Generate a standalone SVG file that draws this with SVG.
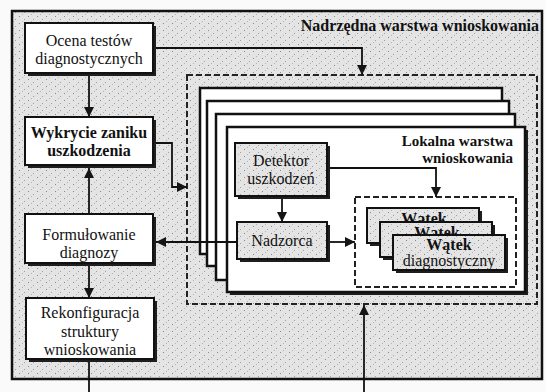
<svg xmlns="http://www.w3.org/2000/svg" width="546" height="392" viewBox="0 0 546 392" font-family="'Liberation Serif', 'DejaVu Serif', serif">
<defs>
<pattern id="stip" width="9" height="7" patternUnits="userSpaceOnUse">
<rect width="9" height="7" fill="#e4e4e4"/>
<rect x="1" y="2" width="1" height="1" fill="#8a8a8a"/>
<rect x="6" y="5" width="1" height="1" fill="#a0a0a0"/>
<rect x="4" y="0" width="1" height="1" fill="#b4b4b4"/>
</pattern>
<marker id="ah" viewBox="0 0 10 10" refX="10" refY="5" markerWidth="10" markerHeight="10" markerUnits="userSpaceOnUse" orient="auto">
<path d="M0,0 L10,5 L0,10 z" fill="#151515"/>
</marker>
</defs>
<style>
text{font-family:'Liberation Serif','DejaVu Serif',serif}
.t{font-size:16px;fill:#111;text-anchor:middle}
.b{font-weight:bold}
.e{text-anchor:end}
.box{fill:#fff;stroke:#111;stroke-width:2}
.sh{fill:#1e1e1e}
.dbox{fill:url(#stip);stroke:#111;stroke-width:2}
.dash{fill:none;stroke:#222;stroke-width:2;stroke-dasharray:6 3}
.ln{fill:none;stroke:#111;stroke-width:1.8}
.page{fill:#fff;stroke:#111;stroke-width:2.5}
</style>
<rect x="0" y="0" width="546" height="392" fill="#fafafa"/>
<g id="upper-layer">
<rect x="12" y="11" width="530" height="368" fill="url(#stip)" stroke="#111" stroke-width="2.5"/>
<text class="t b e" x="539" y="31">Nadrzędna warstwa wnioskowania</text>
</g>
<g id="local-layer">
<rect class="dash" x="187" y="75" width="350" height="229"/>
<rect class="page" x="200" y="88" width="302" height="166"/>
<rect class="page" x="207" y="101" width="302" height="165"/>
<rect class="page" x="216" y="114" width="299" height="166"/>
<rect class="sh" x="230" y="130" width="298" height="165"/>
<rect class="page" x="227" y="127" width="298" height="165"/>
<text class="t b e" x="513" y="146" style="font-size:15px">Lokalna warstwa</text>
<text class="t b e" x="513" y="163" style="font-size:15px">wnioskowania</text>
</g>
<g id="detektor">
<rect class="sh" x="238" y="146" width="92" height="53"/>
<rect class="dbox" x="235" y="143" width="92" height="53"/>
<text class="t" x="281" y="166">Detektor</text>
<text class="t" x="281" y="184">uszkodzeń</text>
</g>
<g id="nadzorca">
<rect class="sh" x="240" y="225" width="90" height="37"/>
<rect class="dbox" x="237" y="222" width="90" height="37"/>
<text class="t" x="282" y="246">Nadzorca</text>
</g>
<g id="watki">
<rect class="dash" x="355" y="197" width="161" height="90"/>
<g id="watek1">
<rect class="sh" x="370" y="211" width="112" height="35"/>
<rect class="dbox" x="367" y="208" width="112" height="35"/>
<text class="t b" x="424" y="224">Wątek</text>
</g>
<g id="watek2">
<rect class="sh" x="383" y="225" width="112" height="35"/>
<rect class="dbox" x="380" y="222" width="112" height="35"/>
<text class="t b" x="437" y="238">Wątek</text>
</g>
<g id="watek3">
<rect class="sh" x="396" y="238" width="112" height="35"/>
<rect class="dbox" x="393" y="235" width="112" height="35"/>
<text class="t b" x="449" y="250">Wątek</text>
<text class="t" x="449" y="266">diagnostyczny</text>
</g>
</g>
<g id="ocena">
<rect class="sh" x="28" y="26" width="128" height="50"/>
<rect class="box" x="25" y="23" width="128" height="50"/>
<text class="t" x="89" y="46">Ocena testów</text>
<text class="t" x="89" y="64">diagnostycznych</text>
</g>
<g id="wykrycie">
<rect class="sh" x="28" y="120" width="128" height="48"/>
<rect class="box" x="25" y="117" width="128" height="48"/>
<text class="t b" x="89" y="138">Wykrycie zaniku</text>
<text class="t b" x="89" y="156">uszkodzenia</text>
</g>
<g id="formulowanie">
<rect class="sh" x="28" y="217" width="128" height="49"/>
<rect class="box" x="25" y="214" width="128" height="49"/>
<text class="t" x="89" y="240">Formułowanie</text>
<text class="t" x="89" y="258">diagnozy</text>
</g>
<g id="rekonfiguracja">
<rect class="sh" x="29" y="301" width="128" height="61"/>
<rect class="box" x="26" y="298" width="128" height="61"/>
<text class="t" x="90" y="318">Rekonfiguracja</text>
<text class="t" x="90" y="337">struktury</text>
<text class="t" x="90" y="355">wnioskowania</text>
</g>
<g id="connectors">
<path class="ln" d="M89,76 V117" marker-end="url(#ah)"/>
<path class="ln" d="M89,214 V168" marker-end="url(#ah)"/>
<path class="ln" d="M89,266 V298" marker-end="url(#ah)"/>
<path class="ln" d="M89,362 V392"/>
<path class="ln" d="M364,392 V305" marker-end="url(#ah)"/>
<path class="ln" d="M156,48 H362 V75" marker-end="url(#ah)"/>
<path class="ln" d="M156,143 H172 V187 H187" marker-end="url(#ah)"/>
<path class="ln" d="M237,242 H156" marker-end="url(#ah)"/>
<path class="ln" d="M282,199 V222" marker-end="url(#ah)"/>
<path class="ln" d="M330,242 H355" marker-end="url(#ah)"/>
<path class="ln" d="M330,168 H436 V197" marker-end="url(#ah)"/>
</g>
</svg>
